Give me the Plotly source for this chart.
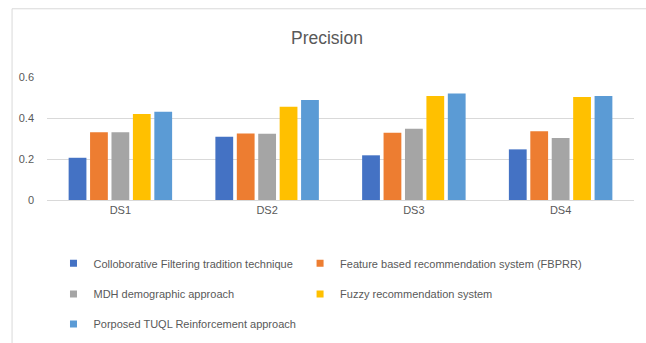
import plotly.graph_objects as go

categories = ["DS1", "DS2", "DS3", "DS4"]
series_names = [
    "Colloborative Filtering tradition technique",
    "Feature based recommendation system (FBPRR)",
    "MDH demographic approach",
    "Fuzzy recommendation system",
    "Porposed TUQL Reinforcement approach",
]
cf_values = [0.206, 0.308, 0.218, 0.247]
fbprr_values = [0.33, 0.325, 0.328, 0.335]
mdh_values = [0.33, 0.323, 0.348, 0.303]
fuzzy_values = [0.419, 0.455, 0.507, 0.502]
tuql_values = [0.43, 0.488, 0.52, 0.507]
colors = ["#4472C4", "#ED7D31", "#A5A5A5", "#FFC000", "#5B9BD5"]
legend_ids = ["legend", "legend2", "legend3", "legend4", "legend5"]

W, H = 646, 343
L, R, T, B = 46.5, 11.5, 77, 142.5
pw, ph = W - L - R, H - T - B

def px_x(x):
    return (x - L) / pw

def px_y(y):
    return (H - B - y) / ph

font_fam = "Liberation Sans Narrow, Arial Narrow, Liberation Sans, Arial, sans-serif"
txt = "#595959"

fig = go.Figure()
all_vals = [cf_values, fbprr_values, mdh_values, fuzzy_values, tuql_values]
for name, vals, col in zip(series_names, all_vals, colors):
    fig.add_trace(go.Bar(x=categories, y=vals, name=name, marker_color=col,
                         marker_line_width=0, showlegend=False))
# legend entries with small square keys
for name, col, lg in zip(series_names, colors, legend_ids):
    fig.add_trace(go.Scatter(x=[None], y=[None], mode="markers", name=name,
                             marker=dict(symbol="square", size=7, color=col),
                             legend=lg, showlegend=True, hoverinfo="skip"))

leg_common = dict(orientation="h", xanchor="left", yanchor="middle",
                  font=dict(family=font_fam, size=11, color=txt),
                  bgcolor="rgba(0,0,0,0)")

col1_x, col2_x = 53, 300
row_y = [264, 295, 325]

fig.update_layout(
    width=W, height=H,
    margin=dict(l=L, r=R, t=T, b=B, pad=0, autoexpand=False),
    paper_bgcolor="white", plot_bgcolor="white",
    barmode="group", bargap=0.27, bargroupgap=0.17,
    title=dict(text="Precision", x=327 / W, xanchor="center", y=1 - 38 / H, yanchor="middle",
               xref="container", yref="container",
               font=dict(family=font_fam, size=17.5, color=txt)),
    xaxis=dict(showgrid=False, showline=True, linecolor="#d9d9d9", linewidth=1,
               ticks="", tickfont=dict(family=font_fam, size=11, color=txt)),
    yaxis=dict(range=[0, 0.6], tickvals=[0, 0.2, 0.4, 0.6],
               ticktext=["0", "0.2", "0.4", "0.6"],
               showgrid=True, gridcolor="#d9d9d9", gridwidth=1, zeroline=False,
               showline=False, ticks="", ticklabelstandoff=12,
               tickfont=dict(family=font_fam, size=11, color=txt)),
    legend=dict(x=px_x(col1_x), y=px_y(row_y[0]), **leg_common),
    legend2=dict(x=px_x(col2_x), y=px_y(row_y[0]), **leg_common),
    legend3=dict(x=px_x(col1_x), y=px_y(row_y[1]), **leg_common),
    legend4=dict(x=px_x(col2_x), y=px_y(row_y[1]), **leg_common),
    legend5=dict(x=px_x(col1_x), y=px_y(row_y[2]), **leg_common),
    showlegend=True,
)

fig.add_shape(type="rect", xref="paper", yref="paper",
              x0=px_x(11.5), x1=px_x(660), y0=px_y(360), y1=px_y(8.5),
              line=dict(color="#d9d9d9", width=1), fillcolor="rgba(0,0,0,0)", layer="below")

fig.write_html("out.html")
